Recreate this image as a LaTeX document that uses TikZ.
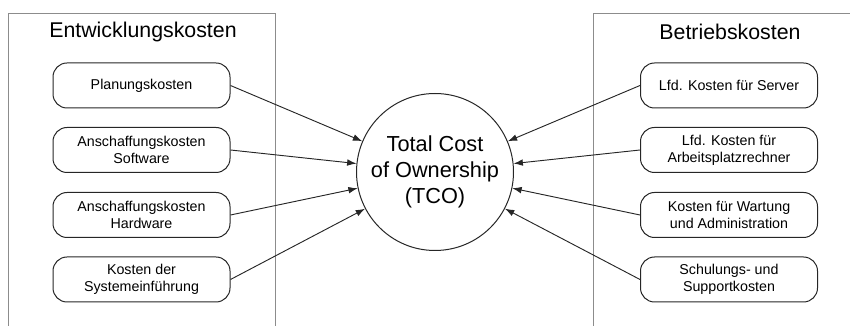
\documentclass[tikz,border=0pt]{standalone}
\usepackage{fontspec}
\setmainfont{Liberation Sans}
\usepackage{tikz}
\usetikzlibrary{arrows.meta}
\usetikzlibrary{positioning}

\begin{document}
\begin{tikzpicture}[
x=0.75pt, y=-0.75pt,
MyFrames/.style={draw=black!45,line width=0.75pt},
MyBoxes/.style={draw=black!85,line width=0.75pt,rounded corners=10.5pt,minimum width=132.75pt,minimum height=33.75pt,inner sep=0pt,align=center,font=\fontsize{10.7}{12.9}\selectfont},
MyTitles/.style={font=\fontsize{16}{19}\selectfont,inner sep=0pt},
MyCircle/.style={draw=black!85,line width=0.75pt,circle,minimum size=117.75pt,inner sep=0pt,align=center,font=\fontsize{16.3}{19.5}\selectfont},
MyArrows/.style={draw=black!85,line width=0.7pt,-{Latex[length=7pt, width=5pt]}}
]
\useasboundingbox (0,0) rectangle (850,327);

% frames
\draw[MyFrames] (8,326) -- (8,14) -- (275,14) -- (275,326);
\draw[MyFrames] (593,326) -- (593,14) -- (851,14);

\node[MyTitles] (devtitle) at (143,32) {Entwicklungskosten};
\node[MyTitles] (optitle) at (730,32) {Betriebskosten};

% center
\node[MyCircle] (tco) at (435,172) {Total Cost\\of Ownership\\(TCO)};

% left side
\node[MyBoxes] (plan) at (141.5,85.5) {Planungskosten};
\node[MyBoxes] (soft) at (141.5,150) {Anschaffungskosten\\Software};
\node[MyBoxes] (hard) at (141.5,215) {Anschaffungskosten\\Hardware};
\node[MyBoxes] (intro) at (141.5,279.5) {Kosten der\\Systemeinführung};

% right side
\node[MyBoxes] (server) at (729,85.5) {Lfd. Kosten für Server};
\node[MyBoxes] (client) at (729,150) {Lfd. Kosten für\\Arbeitsplatzrechner};
\node[MyBoxes] (admin) at (729,215) {Kosten für Wartung\\und Administration};
\node[MyBoxes] (train) at (729,279.5) {Schulungs- und\\Supportkosten};

\draw[MyArrows] (plan.east) -- (tco);
\draw[MyArrows] (soft.east) -- (tco);
\draw[MyArrows] (hard.east) -- (tco);
\draw[MyArrows] (intro.east) -- (tco);

\draw[MyArrows] (server.west) -- (tco);
\draw[MyArrows] (client.west) -- (tco);
\draw[MyArrows] (admin.west) -- (tco);
\draw[MyArrows] (train.west) -- (tco);

\end{tikzpicture}
\end{document}
